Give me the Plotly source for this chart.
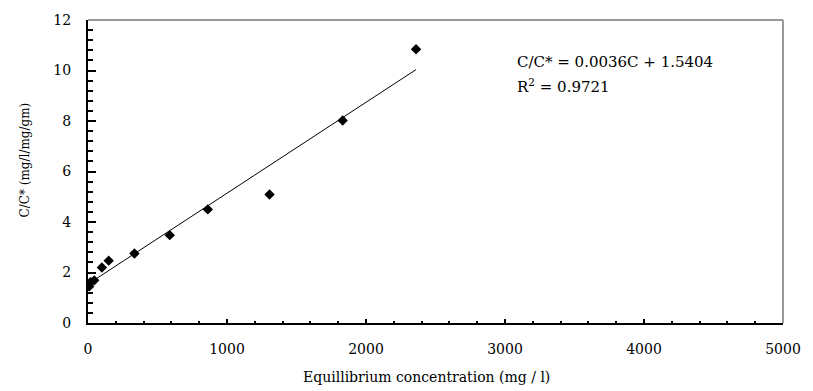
import plotly.graph_objects as go

# Data
conc = [9, 19, 45, 100, 149, 334, 588, 862, 1306, 1832, 2360]
ratio = [1.45, 1.62, 1.69, 2.2, 2.47, 2.75, 3.48, 4.5, 5.09, 8.02, 10.84]

slope = 0.0036
intercept = 1.5404
fit_x = [min(conc), max(conc)]
fit_y = [slope * v + intercept for v in fit_x]

x_ticks = [0, 1000, 2000, 3000, 4000, 5000]
y_ticks = [0, 2, 4, 6, 8, 10, 12]

FONT = "DejaVu Serif"

fig = go.Figure()
fig.add_trace(go.Scatter(x=fit_x, y=fit_y, mode="lines",
                         line=dict(color="black", width=1), showlegend=False,
                         hoverinfo="skip"))
fig.add_trace(go.Scatter(x=conc, y=ratio, mode="markers",
                         marker=dict(symbol="diamond", color="black", size=8),
                         showlegend=False))

fig.update_layout(
    width=813, height=391,
    margin=dict(l=88, r=21, t=15, b=68),
    paper_bgcolor="white", plot_bgcolor="white",
    font=dict(family=FONT, color="black", size=14),
    xaxis=dict(range=[0, 5000], tickvals=x_ticks, showgrid=False, zeroline=False,
               showline=True, linecolor="black", linewidth=2,
               ticks="inside", ticklen=4, tickwidth=2, tickcolor="black",
               minor=dict(dtick=200, ticks="inside", ticklen=2, tickwidth=2, tickcolor="black"),
               tickfont=dict(family=FONT, size=14), ticklabelstandoff=12),
    yaxis=dict(range=[0, 12], tickvals=y_ticks, showgrid=False, zeroline=False,
               showline=True, linecolor="black", linewidth=2,
               ticks="inside", ticklen=8, tickwidth=2, tickcolor="black",
               minor=dict(dtick=0.4, ticks="inside", ticklen=5, tickwidth=2, tickcolor="black"),
               tickfont=dict(family=FONT, size=14), ticklabelstandoff=12),
)

# top and right frame (grey)
fig.add_shape(type="line", xref="x domain", yref="y domain", x0=0, x1=1, y0=1, y1=1,
              line=dict(color="#999999", width=2))
fig.add_shape(type="line", xref="x domain", yref="y domain", x0=1, x1=1, y0=0, y1=1,
              line=dict(color="#999999", width=2))

# axis titles
fig.add_annotation(text="Equillibrium concentration (mg / l)", xref="paper", yref="paper",
                   x=0.487, y=-0.179, xanchor="center", yanchor="middle",
                   showarrow=False, font=dict(family=FONT, size=14))
fig.add_annotation(text="C/C* (mg/l/mg/gm)", xref="paper", yref="paper",
                   x=-0.091, y=0.539, xanchor="center", yanchor="middle",
                   textangle=-90, showarrow=False, font=dict(family=FONT, size=12))

# equation
fig.add_annotation(text="C/C* = 0.0036C + 1.5404",
                   xref="paper", yref="paper", x=0.614, y=0.860,
                   xanchor="left", yanchor="middle", showarrow=False,
                   font=dict(family=FONT, size=15))
fig.add_annotation(text="R<sup>2</sup> = 0.9721",
                   xref="paper", yref="paper", x=0.614, y=0.782,
                   xanchor="left", yanchor="middle", showarrow=False,
                   font=dict(family=FONT, size=15))

fig.write_html("out.html")
